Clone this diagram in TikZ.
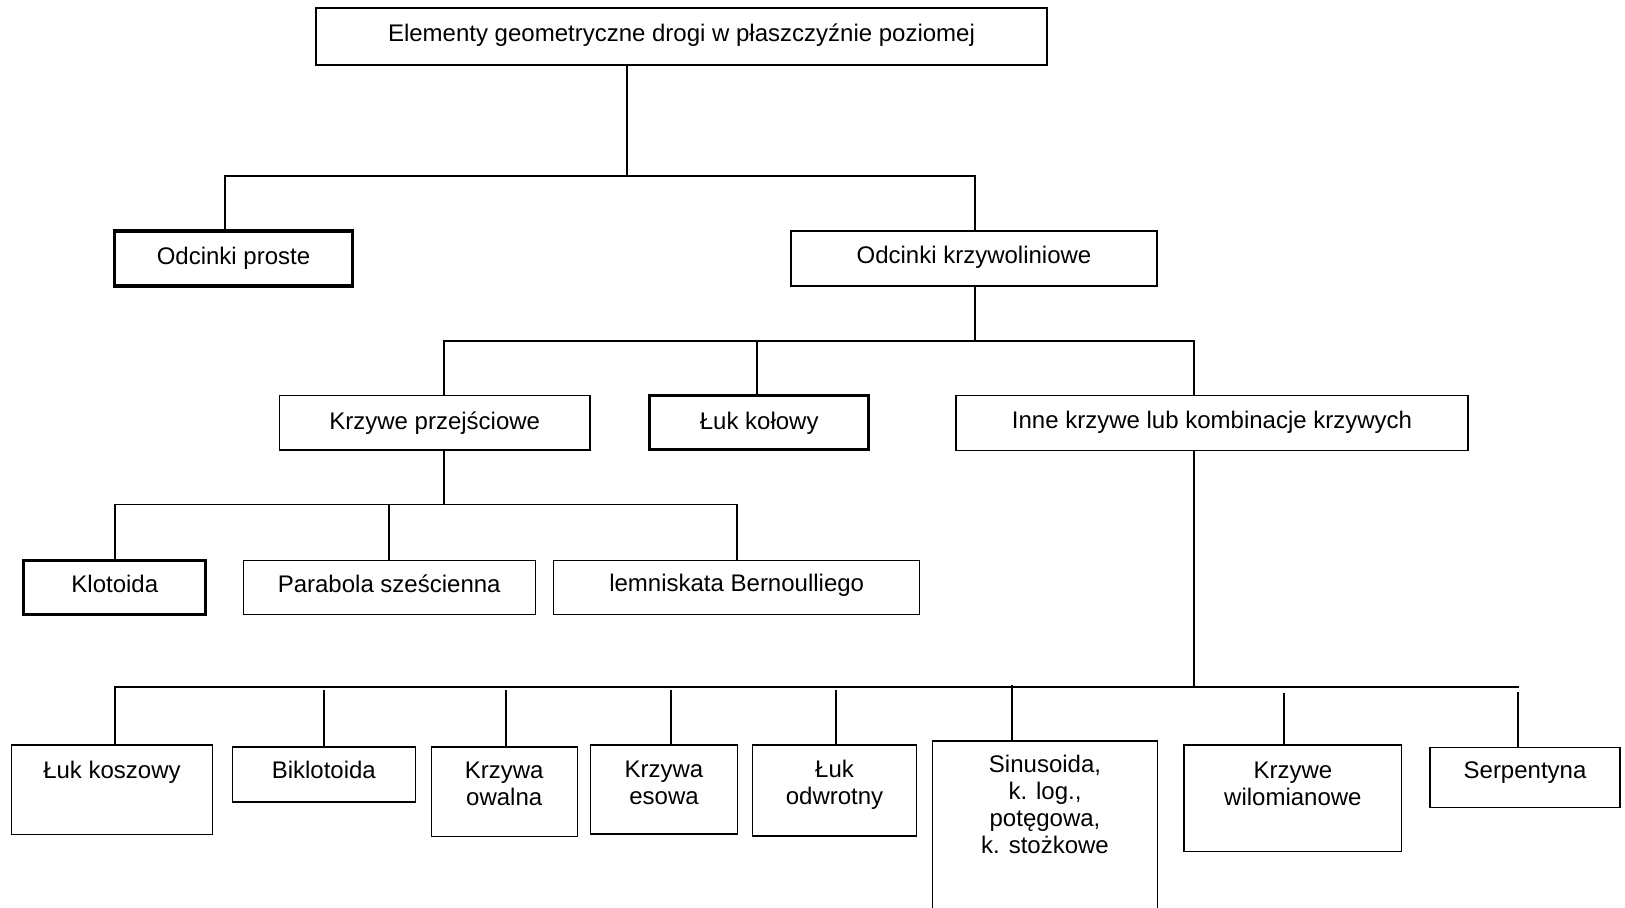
\documentclass[tikz,border=0pt]{standalone}
\usepackage{fontspec}
\setmainfont{Liberation Sans}
\newcommand{\bxt}[4]{\parbox[c][0.5\dimexpr#2pt\relax][t]{0.5\dimexpr#1pt\relax}{\centering\rule{0pt}{0.5\dimexpr#3pt+1.8pt\relax}#4\par}}
\tikzset{
  box/.style={draw, line width=0.7pt, inner sep=0pt, outer sep=0pt, font=\fontsize{12pt}{13.5pt}\selectfont},
  tbox/.style={box, line width=1.6pt},
  conn/.style={line width=0.8pt},
  mconn/.style={line width=1.1pt},
  tconn/.style={line width=1.4pt}
}
\begin{document}
\begin{tikzpicture}[x=0.5pt, y=-0.5pt]
\useasboundingbox[fill=white] (0,0) rectangle (1625,907);
% boxes
\node[box]  (top)     at (681.5,36.5)  {\bxt{731}{57}{31.8}{Elementy geometryczne drogi w płaszczyźnie poziomej}};
\node[tbox] (proste)  at (233.5,258.5) {\bxt{238}{55}{31.7}{Odcinki proste}};
\node[box]  (krzyw)   at (974,258.5)   {\bxt{366}{55}{30.7}{Odcinki krzywoliniowe}};
\node[box]  (przej)   at (434.75,422.75) {\bxt{310.5}{54.5}{32}{Krzywe przejściowe}};
\node[tbox] (kolowy)  at (759.2,422.7) {\bxt{218.7}{53.7}{31.5}{Łuk kołowy}};
\node[box]  (inne)    at (1212,423)    {\bxt{512}{54.5}{31.2}{Inne krzywe lub kombinacje krzywych}};
\node[tbox] (klot)    at (114.8,587.5) {\bxt{182}{53.4}{30}{Klotoida}};
\node[box]  (parab)   at (389.2,587.5) {\bxt{292}{54.5}{30.2}{Parabola sześcienna}};
\node[box]  (lemn)    at (736.7,587.5) {\bxt{366}{54.5}{29.7}{lemniskata Bernoulliego}};
\node[box]  (koszowy) at (112,789.7)   {\bxt{201}{89.5}{31.4}{Łuk koszowy}};
\node[box]  (bikl)    at (323.8,774.5) {\bxt{183}{55}{30}{Biklotoida}};
\node[box]  (owal)    at (504.2,791.7) {\bxt{146}{89.5}{30}{Krzywa\\owalna}};
\node[box]  (esowa)   at (664,789.5)   {\bxt{147}{89}{30.7}{Krzywa\\esowa}};
\node[box]  (odwr)    at (834.5,790.4) {\bxt{164}{91}{30.7}{Łuk\\odwrotny}};
\node[box]  (sinus)   at (1045,838)    {\bxt{225.5}{194}{29.7}{Sinusoida,\\k. log.,\\potęgowa,\\k. stożkowe}};
\node[box]  (wielom)  at (1292.9,798.2) {\bxt{217.5}{106.5}{32}{Krzywe\\wilomianowe}};
\node[box]  (serp)    at (1525,777.5)  {\bxt{190}{60}{29.6}{Serpentyna}};
% level 1
\coordinate (j0) at (627,176);
\coordinate (a1) at (225,176);
\coordinate (a2) at (975,176);
\draw[conn] (top.south -| j0) -- (j0);
\draw[conn] (proste.north -| a1) -- (a1) -- (a2) -- (krzyw.north -| a2);
% level 2
\coordinate (b0) at (975,340.7);
\coordinate (b1) at (444,340.7);
\coordinate (b2) at (757,340.7);
\coordinate (b3) at (1194,340.7);
\draw[conn] (krzyw.south -| b0) -- (b0);
\draw[conn] (przej.north -| b1) -- (b1) -- (b3) -- (inne.north -| b3);
\draw[tconn] (b2) -- (kolowy.north -| b2);
% level 3
\coordinate (c0) at (444,504.3);
\coordinate (c1) at (115,504.3);
\coordinate (c2) at (389,504.3);
\coordinate (c3) at (737,504.3);
\draw[tconn] (przej.south -| c0) -- (c0);
\draw[conn] (klot.north -| c1) -- (c1) -- (c3) -- (lemn.north -| c3);
\draw[conn] (c2) -- (parab.north -| c2);
% level 4
\coordinate (d0) at (1194,687.3);
\coordinate (d1) at (115,687.3);
\coordinate (d9) at (1519,687.3);
\draw[conn] (inne.south -| d0) -- (d0);
\draw[mconn] (koszowy.north -| d1) -- (d1) -- (d9);
\coordinate (e2) at (324,690);
\coordinate (e3) at (506,690);
\coordinate (e4) at (671,690);
\coordinate (e5) at (836,690);
\coordinate (e6) at (1012,685);
\coordinate (e7) at (1284,692.5);
\coordinate (e8) at (1518,692);
\draw[mconn] (e2) -- (bikl.north -| e2);
\draw[mconn] (e3) -- (owal.north -| e3);
\draw[mconn] (e4) -- (esowa.north -| e4);
\draw[mconn] (e5) -- (odwr.north -| e5);
\draw[mconn] (e6) -- (sinus.north -| e6);
\draw[mconn] (e7) -- (wielom.north -| e7);
\draw[tconn] (e8) -- (serp.north -| e8);
\end{tikzpicture}
\end{document}
